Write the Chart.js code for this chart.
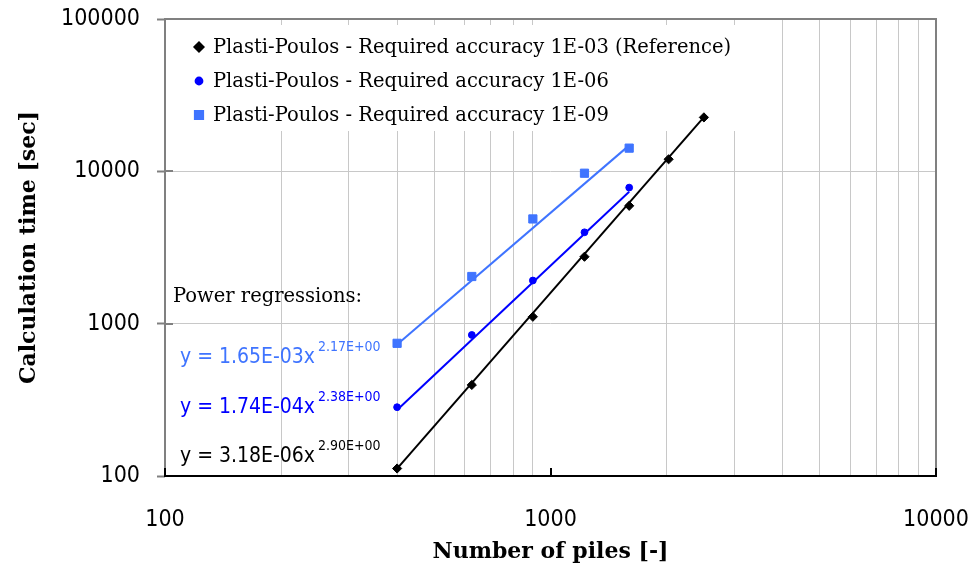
<!DOCTYPE html>
<html>
<head>
<meta charset="utf-8">
<title>Calculation time vs number of piles</title>
<script src="https://cdn.jsdelivr.net/npm/chart.js@4.4.1/dist/chart.umd.min.js"></script>
<style>
  html, body { margin: 0; padding: 0; background: #fff; }
  #wrap { width: 976px; height: 572px; position: relative; }
</style>
</head>
<body>
<div id="wrap"><canvas id="timing"></canvas></div>
<script>
// DATA
const seriesNames = [
  'Plasti-Poulos - Required accuracy 1E-03 (Reference)',
  'Plasti-Poulos - Required accuracy 1E-06',
  'Plasti-Poulos - Required accuracy 1E-09'
];
const piles = [400, 625, 900, 1225, 1600, 2025, 2500];
const timeAcc3 = [112, 396, 1110, 2750, 5940, 12000, 22600];
const timeAcc6 = [283, 843, 1920, 3980, 7820];
const timeAcc9 = [743, 2040, 4870, 9720, 14200];

// power regressions y = a * x^b over the measured range
const fitA = [3.18e-6, 1.74e-4, 1.65e-3];
const fitB = [2.90, 2.38, 2.17];
const fitFrom = [400, 400, 400];
const fitTo = [2500, 1600, 1600];

const xTicks = [100, 200, 300, 400, 500, 600, 700, 800, 900,
                1000, 2000, 3000, 4000, 5000, 6000, 7000, 8000, 9000, 10000];
const yTicks = [100, 1000, 10000, 100000];

// STYLE
const colors = ['#000000', '#0000ff', '#3f74ff'];
const markers = ['rectRot', 'circle', 'rect'];
const markerSize = [4.6, 3.4, 5.8];
const SERIF = "'DejaVu Serif', serif";
const SANS = "'DejaVu Sans Condensed', 'DejaVu Sans', sans-serif";
const GRID = '#c8c8c8';

const isDecade = v => { const l = Math.log10(v); return Math.abs(l - Math.round(l)) < 1e-9; };

function sci(v) {
  const [m, e] = v.toExponential(2).split('e');
  const n = parseInt(e, 10);
  return m + 'E' + (n < 0 ? '-' : '+') + String(Math.abs(n)).padStart(2, '0');
}

const pointSets = [timeAcc3, timeAcc6, timeAcc9].map((vals, i) => ({
  label: seriesNames[i],
  data: vals.map((y, j) => ({ x: piles[j], y })),
  showLine: false,
  pointStyle: markers[i],
  pointRadius: markerSize[i],
  pointHoverRadius: markerSize[i],
  backgroundColor: colors[i],
  borderColor: colors[i],
  borderWidth: 1,
  inLegend: true
}));

const fitSets = fitA.map((a, i) => ({
  label: 'fit ' + seriesNames[i],
  data: [fitFrom[i], fitTo[i]].map(x => ({ x, y: a * Math.pow(x, fitB[i]) })),
  showLine: true,
  pointRadius: 0,
  borderColor: colors[i],
  borderWidth: 2,
  inLegend: false
}));

// frame, legend panel and regression notes
const decorations = {
  id: 'decorations',
  beforeDatasetsDraw(chart) {
    const { ctx, chartArea: a } = chart;
    const xs = chart.scales.x, ys = chart.scales.y;
    ctx.save();

    // legend panel hides the grid behind it
    ctx.fillStyle = '#fff';
    ctx.fillRect(a.left + 2, a.top + 6, 568, 106);

    ctx.lineWidth = 2;
    ctx.strokeStyle = '#808080';
    ctx.strokeRect(a.left, a.top, a.right - a.left, a.bottom - a.top);

    ctx.beginPath();
    yTicks.forEach(v => {
      const py = Math.round(ys.getPixelForValue(v));
      ctx.moveTo(a.left, py); ctx.lineTo(a.left + 8, py);
    });
    ctx.stroke();

    ctx.strokeStyle = '#000';
    ctx.beginPath();
    ctx.moveTo(a.left - 1, a.bottom); ctx.lineTo(a.right + 1, a.bottom);
    xTicks.filter(isDecade).forEach(v => {
      const px = Math.round(xs.getPixelForValue(v));
      ctx.moveTo(px, a.bottom); ctx.lineTo(px, a.bottom - 8);
    });
    ctx.stroke();

    // legend entries
    ctx.font = '19.5px ' + SERIF;
    ctx.textBaseline = 'middle';
    ctx.textAlign = 'left';
    chart.data.datasets.filter(d => d.inLegend).forEach((d, i) => {
      const cy = a.top + 28 + i * 34;
      ctx.fillStyle = d.backgroundColor;
      ctx.strokeStyle = d.borderColor;
      Chart.helpers.drawPoint(ctx, { pointStyle: d.pointStyle, radius: d.pointRadius, rotation: 0, borderWidth: 1 }, a.left + 34, cy);
      ctx.fillStyle = '#000';
      ctx.fillText(d.label, a.left + 48, cy + 1);
    });
    ctx.restore();
  },
  afterDatasetsDraw(chart) {
    const { ctx, chartArea: a } = chart;
    ctx.save();
    ctx.textBaseline = 'alphabetic';
    ctx.textAlign = 'left';
    ctx.fillStyle = '#000';
    ctx.font = '19.5px ' + SERIF;
    ctx.fillText('Power regressions:', a.left + 8, a.top + 283);

    // 1E-09 on top, reference at the bottom
    [2, 1, 0].forEach((s, row) => {
      const x = a.left + 15, base = a.top + 344 + row * 49.5;
      ctx.fillStyle = colors[s];
      ctx.font = '21px ' + SANS;
      const main = 'y = ' + sci(fitA[s]) + 'x';
      ctx.fillText(main, x, base);
      const w = ctx.measureText(main).width;
      ctx.font = '14px ' + SANS;
      ctx.fillText(sci(fitB[s]), x + w + 3, base - 12);
    });
    ctx.restore();
  }
};

new Chart(document.getElementById('timing'), {
  type: 'scatter',
  data: { datasets: [...pointSets, ...fitSets] },
  options: {
    responsive: true,
    maintainAspectRatio: false,
    animation: false,
    events: [],
    layout: { padding: { top: 19, right: 40, left: 0, bottom: 0 } },
    plugins: { legend: { display: false }, tooltip: { enabled: false } },
    scales: {
      x: {
        type: 'logarithmic',
        min: 100, max: 10000,
        afterBuildTicks: s => { s.ticks = xTicks.map(v => ({ value: v, major: isDecade(v) })); },
        afterFit: s => { s.height = 96; s.paddingLeft = 0; s.paddingRight = 0; },
        border: { display: false },
        grid: {
          color: c => (c.tick && isDecade(c.tick.value)) ? 'rgba(0,0,0,0)' : GRID,
          lineWidth: 1,
          drawTicks: false
        },
        ticks: {
          autoSkip: false, maxRotation: 0, padding: 30, color: '#000',
          font: { family: SANS, size: 23 },
          callback: v => isDecade(v) ? String(v) : ''
        },
        title: {
          display: true, text: 'Number of piles [-]', color: '#000',
          font: { family: SERIF, size: 22, weight: 'bold' },
          padding: { top: 0, bottom: 7 }
        }
      },
      y: {
        type: 'logarithmic',
        min: 100, max: 100000,
        afterBuildTicks: s => { s.ticks = yTicks.map(v => ({ value: v, major: true })); },
        afterFit: s => { s.width = 165; s.paddingTop = 0; s.paddingBottom = 0; },
        border: { display: false },
        grid: { color: GRID, lineWidth: 1, tickColor: '#808080', tickLength: 8, tickWidth: 2 },
        ticks: {
          autoSkip: false, padding: 17, color: '#000',
          font: { family: SANS, size: 23 },
          callback: v => String(v)
        },
        title: {
          display: true, text: 'Calculation time [sec]', color: '#000',
          font: { family: SERIF, size: 22, weight: 'bold' },
          padding: { top: 16, bottom: 0 }
        }
      }
    }
  },
  plugins: [decorations]
});
</script>
</body>
</html>
